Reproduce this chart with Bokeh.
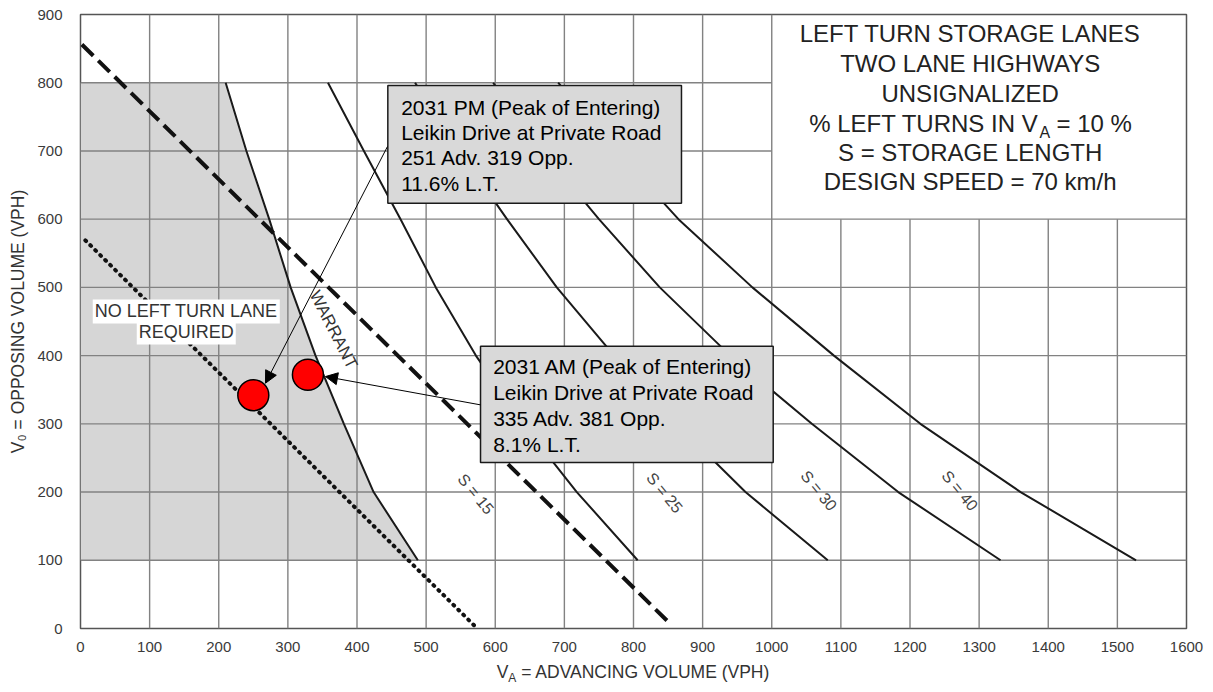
from bokeh.plotting import figure
from bokeh.layouts import column
from bokeh.models import Range1d, FixedTicker, Label, Arrow, NormalHead, Div
from bokeh.core.properties import value
from bokeh.embed import file_html
from bokeh.resources import INLINE

FONT = "Liberation Sans"

# ---- data ----
x_ticks = list(range(0, 1601, 100))
y_ticks = list(range(0, 901, 100))

curve_y = [800, 700, 600, 500, 400, 300, 200, 100]
warrant_x = [210, 240, 273, 304, 340, 381, 424, 488]
s15_x = [358, 410, 463, 514, 572, 640, 718, 806]
s25_x = [484, 548, 617, 689, 772, 862, 962, 1081]
s30_x = [597, 668, 750, 838, 940, 1058, 1183, 1331]
s40_x = [691, 775, 865, 972, 1090, 1215, 1360, 1527]

dashed_x = [2, 853]
dashed_y = [856, 7]
dotted_x = [7, 572]
dotted_y = [569, 2]

points_x = [250, 329]   # PM, AM
points_y = [342, 372]

s_labels = ["S = 15", "S = 25", "S = 30", "S = 40"]
s_label_x = [572, 845, 1068, 1272]
s_label_y = [197, 199, 202, 202]

title_lines = ["LEFT TURN STORAGE LANES", "TWO LANE HIGHWAYS", "UNSIGNALIZED",
               "", "S = STORAGE LENGTH", "DESIGN SPEED = 70 km/h"]
title_y = [872, 828, 784, 740, 698, 655]
title_x = 1287

box_left = [444.6, 578.7]
box_right = [869.4, 1002.1]
box_top = [795.9, 413.8]
box_bottom = [623.4, 243.3]
pm_lines = ["2031 PM (Peak of Entering)", "Leikin Drive at Private Road",
            "251 Adv. 319 Opp.", "11.6% L.T."]
pm_line_y = [764.2, 727.5, 690.0, 651.9]
pm_text_x = 463.9
am_lines = ["2031 AM (Peak of Entering)", "Leikin Drive at Private Road",
            "335 Adv. 381 Opp.", "8.1% L.T."]
am_line_y = [384.5, 346.4, 307.4, 269.3]
am_text_x = 597.0

arrow_start_x = [444.1, 578.7]
arrow_start_y = [706.5, 327.8]
arrow_end_x = [267.6, 354.4]
arrow_end_y = [359.6, 369.3]

box_x0, box_y0 = 1000, 600  # title box lower-left corner

p = figure(frame_width=1106, frame_height=614, output_backend="svg", toolbar_location=None,
           x_range=Range1d(0, 1600), y_range=Range1d(0, 900),
           min_border_left=80, min_border_right=25, min_border_top=14, min_border_bottom=28)
p.grid.visible = False
p.outline_line_color = "#555555"
p.outline_line_width = 1.5
p.background_fill_color = "white"

for ax, ticks in ((p.xaxis[0], x_ticks), (p.yaxis[0], y_ticks)):
    ax.ticker = FixedTicker(ticks=ticks)
    ax.major_tick_line_color = None
    ax.minor_tick_line_color = None
    ax.axis_line_color = None
    ax.major_label_text_font = FONT
    ax.major_label_text_font_size = "15px"
    ax.major_label_text_color = "#3a3a3a"
    ax.axis_label_text_font = FONT
    ax.axis_label_text_font_size = "17.5px"
    ax.axis_label_text_font_style = "normal"
    ax.axis_label_text_color = "#333333"
p.xaxis.major_label_standoff = 7
p.yaxis.major_label_standoff = 12
p.yaxis.axis_label = "V\u2080 = OPPOSING VOLUME (VPH)"
p.yaxis.axis_label_standoff = 6

# shaded "no left turn lane" region
p.patch([0, 0] + warrant_x, [100, 800] + curve_y, fill_color="#d6d6d6", line_color=None)

# grid (omitted inside title box)
gx0, gx1, gy0, gy1 = [], [], [], []
for xt in x_ticks[1:-1]:
    gx0.append(xt); gx1.append(xt); gy0.append(0)
    gy1.append(900 if xt <= box_x0 else box_y0)
for yt in y_ticks[1:-1]:
    gy0.append(yt); gy1.append(yt); gx0.append(0)
    gx1.append(1600 if yt <= box_y0 else box_x0)
p.segment(gx0, gy0, gx1, gy1, line_color="#828282", line_width=1.4)

# curves
p.line(warrant_x, curve_y, line_color="#1a1a1a", line_width=2)
for sx in (s15_x, s25_x, s30_x, s40_x):
    p.line(sx, curve_y, line_color="#1a1a1a", line_width=2, line_join="round")
p.line(dashed_x, dashed_y, line_color="#111111", line_width=4, line_dash="16 7")
p.line(dotted_x, dotted_y, line_color="#111111", line_width=4, line_dash="1 6", line_cap="round")

# curve labels
p.text(s_label_x, s_label_y, text=s_labels, angle=-0.88, text_font=value(FONT),
       text_font_size="16px", text_color="#444444", text_align="center", text_baseline="middle")
p.text([366], [438], text=["WARRANT"], angle=-1.1, text_font=value(FONT),
       text_font_size="17px", text_color="#333333", text_align="center", text_baseline="middle")

# title box text
p.text([title_x] * len(title_lines), title_y, text=title_lines, text_font=value(FONT),
       text_font_size="24px", text_color="#222222", text_align="center", text_baseline="middle")
p.text([1386], [740], text=["% LEFT TURNS IN V"], text_font=value(FONT), text_font_size="24px",
       text_color="#222222", text_align="right", text_baseline="middle")
p.text([1387.5], [727], text=["A"], text_font=value(FONT), text_font_size="16px",
       text_color="#222222", text_align="left", text_baseline="middle")
p.text([1412], [740], text=["= 10 %"], text_font=value(FONT), text_font_size="24px",
       text_color="#222222", text_align="left", text_baseline="middle")

# annotation boxes
p.quad(left=box_left, right=box_right, top=box_top, bottom=box_bottom,
       fill_color="#d9d9d9", line_color="#1a1a1a", line_width=1.5)
p.text([pm_text_x] * 4, pm_line_y, text=pm_lines, text_font=value(FONT), text_font_size="21px",
       text_color="black", text_align="left", text_baseline="middle")
p.text([am_text_x] * 4, am_line_y, text=am_lines, text_font=value(FONT), text_font_size="21px",
       text_color="black", text_align="left", text_baseline="middle")

# points
p.scatter(points_x, points_y, size=31, fill_color="#ff0000", line_color="black", line_width=1.5)

for i in range(2):
    p.add_layout(Arrow(end=NormalHead(size=12, fill_color="black", line_color="black"),
                       x_start=arrow_start_x[i], y_start=arrow_start_y[i],
                       x_end=arrow_end_x[i], y_end=arrow_end_y[i],
                       line_color="black", line_width=1))

# region label with white background
for txt, ly in (("NO LEFT TURN LANE", 464.7), ("REQUIRED", 433.9)):
    p.add_layout(Label(x=153, y=ly, text=txt, text_align="center", text_baseline="middle",
                       text_font=FONT, text_font_size="18px", text_color="#333333",
                       background_fill_color="white", padding=2))

# x axis title (with subscript A) below the figure
xtitle = Div(
    text='V<sub style="font-size:12px;vertical-align:-4px;line-height:0">A</sub> = ADVANCING VOLUME (VPH)',
    width=1106, height=24, margin=(6, 0, 0, 80),
    styles={"font-family": "Liberation Sans", "font-size": "17.5px", "color": "#333333",
            "text-align": "center", "line-height": "20px"})

layout = column(p, xtitle, spacing=0)
open("out.html", "w").write(file_html(layout, INLINE))
